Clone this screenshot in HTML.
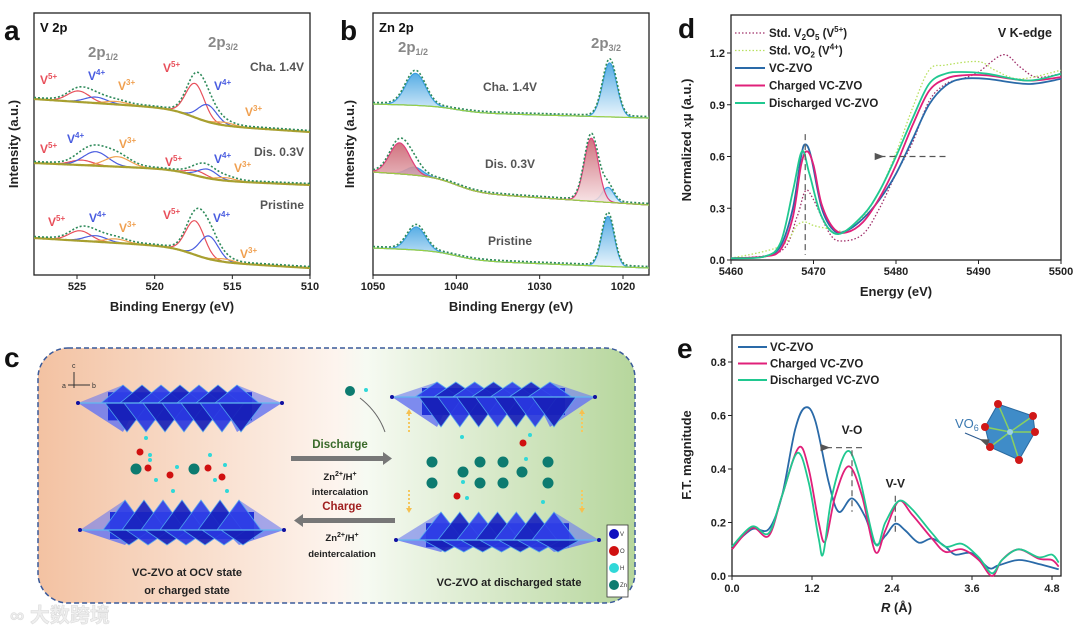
<!DOCTYPE html>
<html><head><meta charset="utf-8"><style>
body{margin:0;background:#fff;}
svg{display:block;font-family:"Liberation Sans","Noto Sans CJK SC",sans-serif;}
.tk{font-size:11px;font-weight:bold;fill:#222;}
.at{font-size:13px;font-weight:bold;fill:#222;}
.pl{font-size:28px;font-weight:bold;fill:#111;}
</style></head><body>
<svg id="fig" width="1080" height="629" viewBox="0 0 1080 629" xmlns="http://www.w3.org/2000/svg">
<defs>
<linearGradient id="bgc" x1="0" x2="1" y1="0" y2="0">
<stop offset="0" stop-color="#f3c2a2"/><stop offset="0.5" stop-color="#fdf4ee"/><stop offset="0.55" stop-color="#f6faf2"/><stop offset="1" stop-color="#b6d69c"/></linearGradient>
<linearGradient id="blueFill" x1="0" x2="0" y1="0" y2="1"><stop offset="0" stop-color="#3a9fe0"/><stop offset="1" stop-color="#e8f4fc"/></linearGradient>
<linearGradient id="redFill" x1="0" x2="0" y1="0" y2="1"><stop offset="0" stop-color="#c85a68"/><stop offset="1" stop-color="#f8e4e6"/></linearGradient>
<marker id="ah" markerWidth="8" markerHeight="8" refX="4" refY="4" orient="auto"><path d="M8,1 L0,4 L8,7 Z" fill="#555"/></marker>
</defs>

<text class="pl" x="4" y="40">a</text>
<text class="pl" x="340" y="40">b</text>
<text class="pl" x="678" y="38">d</text>
<text class="pl" x="4" y="367">c</text>
<text class="pl" x="677" y="358">e</text>

<g id="pa"></g>
<g id="pb"></g>
<g id="pc"></g>
<g id="pd"></g>
<g id="pe"></g>
</svg>
<script>
// ---------- DATA ----------
const aSpectra = ["Cha. 1.4V","Dis. 0.3V","Pristine"];
const aBgLeft = [99,163,238];
const aBgRight = [132,185,268];
const aV5 = [[[517.4,34,0.6],[524.9,11,0.7]],[[517.3,5,0.6],[524.7,5,0.7]],[[517.4,34,0.6],[524.8,10,0.7]]];
const aV4 = [[[516.6,17,0.6],[523.8,6,0.7]],[[516.6,9,0.6],[523.8,14,0.8]],[[516.5,23,0.6],[523.8,6,0.7]]];
const aV3 = [[[515.5,3,0.6],[522.5,3,0.7]],[[515.4,3,0.6],[522.4,10,0.8]],[[515.5,3,0.6],[522.5,4,0.7]]];
const aXTicks = [525,520,515,510];
const bSpectra = ["Cha. 1.4V","Dis. 0.3V","Pristine"];
const bBgLeft = [104,172,248];
const bBgRight = [118,205,268];
const bBlue = [[[1044.9,32,1.2],[1021.6,54,0.85]],[[1045.0,8,1.0],[1021.8,15,0.7]],[[1044.8,23,1.1],[1021.8,50,0.75]]];
const bRed = [[],[[1046.8,31,1.2],[1023.8,63,0.85]],[]];
const bXTicks = [1050,1040,1030,1020];
const dX_V2O5 = [5460,5466,5468,5469,5470,5472,5473.5,5476,5478,5480,5482,5484,5486,5488,5490,5493,5495,5497,5500];
const dY_V2O5 = [0.01,0.05,0.25,0.4,0.35,0.15,0.11,0.15,0.3,0.5,0.68,0.92,1.02,1.05,1.09,1.19,1.12,1.06,1.08];
const dX_VO2 = [5460,5466,5468,5469,5470,5472,5474,5476,5478,5480,5482,5484,5486,5490,5492,5495,5500];
const dY_VO2 = [0.01,0.08,0.2,0.22,0.2,0.18,0.17,0.25,0.4,0.62,0.88,1.1,1.13,1.15,1.1,1.05,1.1];
const dX_VC = [5460,5464,5466,5467.5,5468.5,5469,5469.7,5471,5472.5,5474,5476,5478,5480,5482,5484,5486,5488,5491,5496,5500];
const dY_VC = [0.01,0.02,0.08,0.3,0.6,0.67,0.6,0.3,0.17,0.17,0.24,0.35,0.5,0.7,0.9,1.01,1.05,1.05,1.02,1.05];
const dX_CH = [5460,5464,5466,5467.5,5468.5,5469.2,5470,5471,5472.5,5474,5476,5478,5480,5482,5484,5486,5488,5491,5496,5500];
const dY_CH = [0.01,0.02,0.06,0.25,0.55,0.63,0.55,0.32,0.18,0.16,0.22,0.36,0.55,0.78,0.98,1.05,1.07,1.07,1.04,1.06];
const dX_DC = [5460,5464,5466,5467.5,5468.6,5469.5,5471,5473,5476,5478,5480,5482,5484,5486,5488,5491,5496,5500];
const dY_DC = [0.01,0.02,0.1,0.4,0.63,0.5,0.25,0.15,0.26,0.4,0.6,0.82,1.02,1.08,1.09,1.08,1.04,1.08];
const dXTicks = [5460,5470,5480,5490,5500];
const dYTicks = [0.0,0.3,0.6,0.9,1.2];
const eX_VC = [0,0.3,0.55,0.75,0.95,1.1,1.25,1.45,1.6,1.8,2.0,2.15,2.3,2.45,2.6,2.8,3.0,3.2,3.35,3.6,3.85,4.0,4.3,4.6,4.9];
const eY_VC = [0.11,0.175,0.175,0.3,0.55,0.63,0.58,0.35,0.24,0.29,0.22,0.12,0.15,0.195,0.17,0.125,0.14,0.11,0.08,0.085,0.03,0.04,0.06,0.045,0.025];
const eX_CH = [0,0.3,0.55,0.75,1.0,1.15,1.3,1.4,1.55,1.75,1.95,2.15,2.3,2.5,2.7,3.0,3.2,3.45,3.7,3.9,4.05,4.3,4.6,4.8,4.9];
const eY_CH = [0.1,0.18,0.15,0.3,0.48,0.4,0.2,0.13,0.3,0.41,0.3,0.09,0.17,0.28,0.23,0.14,0.09,0.1,0.06,0.0,0.06,0.1,0.065,0.06,0.035];
const eX_DC = [0,0.3,0.55,0.75,0.98,1.15,1.3,1.37,1.5,1.72,1.9,2.15,2.3,2.5,2.7,3.0,3.2,3.45,3.7,3.9,4.05,4.3,4.6,4.8,4.9];
const eY_DC = [0.11,0.185,0.16,0.3,0.46,0.35,0.14,0.085,0.3,0.465,0.38,0.12,0.2,0.28,0.25,0.16,0.11,0.12,0.07,0.01,0.06,0.1,0.07,0.08,0.05];
const eXTicks = [0.0,1.2,2.4,3.6,4.8];
const eYTicks = [0.0,0.2,0.4,0.6,0.8];

// ---------- HELPERS ----------
const NS="http://www.w3.org/2000/svg";
function mk(parent,tag,attrs){const e=document.createElementNS(NS,tag);for(const k in attrs)e.setAttribute(k,attrs[k]);parent.appendChild(e);return e;}
function txt(parent,x,y,s,attrs){const e=mk(parent,'text',Object.assign({x:x,y:y},attrs||{}));e.innerHTML=s;return e;}
function smooth(pts){if(pts.length<2)return'';let d='M'+pts[0][0].toFixed(1)+','+pts[0][1].toFixed(1);
 for(let i=0;i<pts.length-1;i++){const p0=pts[i-1]||pts[i],p1=pts[i],p2=pts[i+1],p3=pts[i+2]||p2;
 const c1=[p1[0]+(p2[0]-p0[0])/6,p1[1]+(p2[1]-p0[1])/6],c2=[p2[0]-(p3[0]-p1[0])/6,p2[1]-(p3[1]-p1[1])/6];
 d+=' C'+c1[0].toFixed(1)+','+c1[1].toFixed(1)+' '+c2[0].toFixed(1)+','+c2[1].toFixed(1)+' '+p2[0].toFixed(1)+','+p2[1].toFixed(1);}return d;}
function gauss(x,p){return p[1]*Math.exp(-0.5*Math.pow((x-p[0])/p[2],2));}
function frame(g,x0,y0,x1,y1){const r=mk(g,'rect',{x:x0,y:y0,width:x1-x0,height:y1-y0,fill:'none',stroke:'#222','stroke-width':1.3});
 }

// ---------- XPS panels ----------
function xpsPanel(g,opt){
 const sx=v=>opt.px0+(v-opt.v0)*(opt.px1-opt.px0)/(opt.v1-opt.v0);
 frame(g,opt.L,opt.T,opt.R,opt.B);
 opt.ticks.forEach(t=>{const x=sx(t);mk(g,'line',{x1:x,x2:x,y1:opt.B,y2:opt.B+4,stroke:'#222'});
  const l=txt(g,x,opt.B+15,t,{class:'tk','text-anchor':'middle'});});
 const xt=txt(g,(opt.L+opt.R)/2,opt.B+36,'Binding Energy (eV)',{class:'at','text-anchor':'middle'});
 
 const yt=txt(g,0,0,'Intensity (a.u.)',{class:'at','text-anchor':'middle',transform:'translate('+opt.yx+','+((opt.T+opt.B)/2)+') rotate(-90)'});
 
 const N=160;
 opt.bgL.forEach((bl,i)=>{
  const br=opt.bgR[i];
  const bg=x=>{const f=(x-opt.L)/(opt.R-opt.L);const step=1/(1+Math.exp(-(x-sx(opt.stepAt))/12));return bl+(br-bl)*(0.55*f+0.45*step);};
  const comps=opt.comps.map(c=>c[i]);
  const sg=mk(g,'g',{});
  const xs=[];for(let k=0;k<=N;k++)xs.push(opt.L+k*(opt.R-opt.L)/N);
  const inv=x=>opt.v0+(x-opt.px0)*(opt.v1-opt.v0)/(opt.px1-opt.px0);
  comps.forEach((list,ci)=>{list.forEach(p=>{
   const pts=xs.map(x=>[x,bg(x)-gauss(inv(x),p)]);
   if(opt.fills){const base=xs.map(x=>[x,bg(x)]).reverse();
    const f=mk(sg,'path',{d:smooth(pts)+' L'+base.map(q=>q[0].toFixed(1)+','+q[1].toFixed(1)).join(' L')+' Z',fill:opt.fills[ci],opacity:0.85});
    }
   const l=mk(sg,'path',{d:smooth(pts),fill:'none',stroke:opt.colors[ci],'stroke-width':1.2});
   });});
  const bp=mk(sg,'path',{d:smooth(xs.map(x=>[x,bg(x)])),fill:'none',stroke:opt.bgColor,'stroke-width':opt.bgW});
  
  const env=xs.map(x=>{let s=0;comps.forEach(l=>l.forEach(p=>s+=gauss(inv(x),p)));return [x,bg(x)-s*1.05-1.5];});
  const ep=mk(sg,'path',{d:smooth(env),fill:'none',stroke:'#2e8a5a','stroke-width':1.6,'stroke-dasharray':'2 2'});
  
  const lb=txt(sg,opt.labX,opt.labY[i],opt.names[i],{'font-size':12,'font-weight':'bold',fill:'#555','text-anchor':opt.labAnchor});
  
 });
}
const pa=document.getElementById('pa');
xpsPanel(pa,{L:34,R:310,T:13,B:275,v0:525,v1:510,px0:77,px1:310,ticks:aXTicks,yx:18,bgL:aBgLeft,bgR:aBgRight,stepAt:517.5,
 comps:[aV5,aV4,aV3],colors:['#e8505b','#4a5de0','#f0a050'],bgColor:'#a8a030',bgW:2.2,names:aSpectra,labX:304,labY:[71,156,209],labAnchor:'end'});
txt(pa,40,32,'V 2p',{'font-size':13,'font-weight':'bold',fill:'#111'});
txt(pa,88,57,'2p<tspan font-size="9" dy="3">1/2</tspan>',{'font-size':15,'font-weight':'bold',fill:'#888'});
txt(pa,208,47,'2p<tspan font-size="9" dy="3">3/2</tspan>',{'font-size':15,'font-weight':'bold',fill:'#888'});
const aLab=[[40,84,'V','5+','#e8505b'],[88,80,'V','4+','#4a5de0'],[118,90,'V','3+','#f0a050'],[163,72,'V','5+','#e8505b'],[214,90,'V','4+','#4a5de0'],[245,116,'V','3+','#f0a050'],
[40,153,'V','5+','#e8505b'],[67,143,'V','4+','#4a5de0'],[119,148,'V','3+','#f0a050'],[165,166,'V','5+','#e8505b'],[214,163,'V','4+','#4a5de0'],[234,172,'V','3+','#f0a050'],
[48,226,'V','5+','#e8505b'],[89,222,'V','4+','#4a5de0'],[119,232,'V','3+','#f0a050'],[163,219,'V','5+','#e8505b'],[213,222,'V','4+','#4a5de0'],[240,258,'V','3+','#f0a050']];
aLab.forEach(a=>{const t=txt(pa,a[0],a[1],a[2]+'<tspan font-size="8" dy="-5">'+a[3]+'</tspan>',{'font-size':12,'font-weight':'bold',fill:a[4]});
 });

const pb=document.getElementById('pb');
xpsPanel(pb,{L:373,R:649,T:13,B:275,v0:1050,v1:1020,px0:373,px1:623,ticks:bXTicks,yx:354,bgL:bBgLeft,bgR:bBgRight,stepAt:1040,
 comps:[bBlue,bRed],colors:['#3a9fe0','#e0407a'],fills:['url(#blueFill)','url(#redFill)'],bgColor:'#9ad040',bgW:1.2,names:bSpectra,labX:510,labY:[91,168,245],labAnchor:'middle'});
txt(pb,379,32,'Zn 2p',{'font-size':13,'font-weight':'bold',fill:'#111'});
txt(pb,398,52,'2p<tspan font-size="9" dy="3">1/2</tspan>',{'font-size':15,'font-weight':'bold',fill:'#888'});
txt(pb,591,48,'2p<tspan font-size="9" dy="3">3/2</tspan>',{'font-size':15,'font-weight':'bold',fill:'#888'});

// ---------- Panel d ----------
const pd=document.getElementById('pd');
(function(){
 const L=731,R=1061,T=15,B=260;
 const sx=v=>L+(v-5460)*(R-L)/40, sy=v=>B-v*(B-53)/1.2;
 frame(pd,L,T,R,B);
 dXTicks.forEach(t=>{mk(pd,'line',{x1:sx(t),x2:sx(t),y1:B,y2:B+4,stroke:'#222'});const l=txt(pd,sx(t),B+15,t,{class:'tk','text-anchor':'middle'});});
 dYTicks.forEach(t=>{mk(pd,'line',{x1:L-4,x2:L,y1:sy(t),y2:sy(t),stroke:'#222'});const l=txt(pd,L-6,sy(t)+4,t.toFixed(1),{class:'tk','text-anchor':'end'});});
 const xt=txt(pd,(L+R)/2,296,'Energy (eV)',{class:'at','text-anchor':'middle'});
 const yt=txt(pd,0,0,'Normalized <tspan font-style="italic" font-family="Liberation Serif">x</tspan>μ (a.u.)',{class:'at','text-anchor':'middle',transform:'translate(691,140) rotate(-90)'});
 const series=[[dX_V2O5,dY_V2O5,'#a0306a','1.5 2','std-v2o5-line'],[dX_VO2,dY_VO2,'#b8e060','1.5 2','std-vo2-line'],[dX_VC,dY_VC,'#2a6aa8','','vc-zvo-line'],[dX_CH,dY_CH,'#e0207a','','charged-vc-zvo-line'],[dX_DC,dY_DC,'#20c890','','discharged-vc-zvo-line']];
 series.forEach(s=>{const p=mk(pd,'path',{d:smooth(s[0].map((x,i)=>[sx(x),sy(s[1][i])])),fill:'none',stroke:s[2],'stroke-width':s[3]?1.3:1.8,'stroke-dasharray':s[3]});
  });
 mk(pd,'line',{x1:sx(5469),x2:sx(5469),y1:sy(0.73),y2:sy(0.03),stroke:'#666','stroke-width':1.3,'stroke-dasharray':'6 4'});
 mk(pd,'line',{x1:sx(5486),x2:sx(5478),y1:sy(0.6),y2:sy(0.6),stroke:'#555','stroke-width':1.2,'stroke-dasharray':'6 4','marker-end':'url(#ah)'});
 const leg=[['#a0306a','1.5 2','Std. V<tspan font-size="8" dy="3">2</tspan><tspan dy="-3">O</tspan><tspan font-size="8" dy="3">5</tspan><tspan dy="-3"> (V</tspan><tspan font-size="8" dy="-5">5+</tspan><tspan dy="5">)</tspan>'],
 ['#b8e060','1.5 2','Std. VO<tspan font-size="8" dy="3">2</tspan><tspan dy="-3"> (V</tspan><tspan font-size="8" dy="-5">4+</tspan><tspan dy="5">)</tspan>'],
 ['#2a6aa8','','VC-ZVO'],['#e0207a','','Charged VC-ZVO'],['#20c890','','Discharged VC-ZVO']];
 leg.forEach((e,i)=>{const y=33+i*17.5;const g=mk(pd,'g',{});
  mk(g,'line',{x1:735,x2:765,y1:y,y2:y,stroke:e[0],'stroke-width':e[1]?1.3:2,'stroke-dasharray':e[1]});
  txt(g,769,y+4,e[2],{'font-size':11.5,'font-weight':'bold',fill:'#222'});});
 txt(pd,1052,37,'V K-edge',{'font-size':12.5,'font-weight':'bold',fill:'#222','text-anchor':'end'});
})();

// ---------- Panel e ----------
const pe=document.getElementById('pe');
(function(){
 const L=732,R=1061,T=335,B=576;
 const sx=v=>L+v*(1052-L)/4.8, sy=v=>B-v*(B-362)/0.8;
 frame(pe,L,T,R,B);
 eXTicks.forEach(t=>{mk(pe,'line',{x1:sx(t),x2:sx(t),y1:B,y2:B+4,stroke:'#222'});const l=txt(pe,sx(t),B+16,t.toFixed(1),{class:'tk','text-anchor':'middle'});});
 eYTicks.forEach(t=>{mk(pe,'line',{x1:L-4,x2:L,y1:sy(t),y2:sy(t),stroke:'#222'});const l=txt(pe,L-6,sy(t)+4,t.toFixed(1),{class:'tk','text-anchor':'end'});});
 const xt=txt(pe,(L+R)/2,612,'<tspan font-style="italic">R</tspan> (Å)',{class:'at','text-anchor':'middle'});
 const yt=txt(pe,0,0,'F.T. magnitude',{class:'at','text-anchor':'middle',transform:'translate(691,455) rotate(-90)'});
 const series=[[eX_VC,eY_VC,'#2a6aa8','vc-zvo-line'],[eX_CH,eY_CH,'#e0207a','charged-vc-zvo-line'],[eX_DC,eY_DC,'#20c890','discharged-vc-zvo-line']];
 series.forEach(s=>{const p=mk(pe,'path',{d:smooth(s[0].map((x,i)=>[sx(x),sy(s[1][i])])),fill:'none',stroke:s[2],'stroke-width':1.8});
  });
 mk(pe,'line',{x1:sx(1.8),x2:sx(1.8),y1:sy(0.47),y2:sy(0.24),stroke:'#666','stroke-width':1.3,'stroke-dasharray':'6 4'});
 mk(pe,'line',{x1:sx(1.95),x2:sx(1.4),y1:sy(0.48),y2:sy(0.48),stroke:'#666','stroke-width':1.2,'stroke-dasharray':'6 4','marker-end':'url(#ah)'});
 mk(pe,'line',{x1:sx(2.45),x2:sx(2.45),y1:sy(0.3),y2:sy(0.16),stroke:'#666','stroke-width':1.3,'stroke-dasharray':'6 4'});
 txt(pe,sx(1.8),sy(0.53),'V-O',{'font-size':12,'font-weight':'bold',fill:'#222','text-anchor':'middle'});
 txt(pe,sx(2.45),sy(0.33),'V-V',{'font-size':12,'font-weight':'bold',fill:'#222','text-anchor':'middle'});
 const leg=[['#2a6aa8','VC-ZVO'],['#e0207a','Charged VC-ZVO'],['#20c890','Discharged VC-ZVO']];
 leg.forEach((e,i)=>{const y=347+i*16.5;const g=mk(pe,'g',{});
  mk(g,'line',{x1:738,x2:767,y1:y,y2:y,stroke:e[0],'stroke-width':2});
  txt(g,770,y+4,e[1],{'font-size':11.5,'font-weight':'bold',fill:'#222'});});
 const ins=mk(pe,'g',{});
 mk(ins,'polygon',{points:'998,404 1033,416 1035,432 1019,460 990,447 985,427',fill:'#3f8cc8',stroke:'#2a6aa0'});
 [[998,404],[1033,416],[1035,432],[1019,460],[990,447],[985,427]].forEach(p=>{mk(ins,'line',{x1:1010,y1:432,x2:p[0],y2:p[1],stroke:'#8ad060','stroke-width':1.5});mk(ins,'circle',{cx:p[0],cy:p[1],r:4,fill:'#d01818'});});
 mk(ins,'circle',{cx:1010,cy:432,r:3,fill:'#9ad0e8'});
 txt(ins,955,428,'VO<tspan font-size="9" dy="3">6</tspan>',{'font-size':13,fill:'#3a78b0'});
 mk(ins,'line',{x1:965,y1:433,x2:984,y2:441,stroke:'#2a5a90','stroke-width':1.2,'marker-end':'url(#ah)'});
})();

// ---------- Panel c ----------
const pc=document.getElementById('pc');
(function(){
 const bx=mk(pc,'rect',{x:38,y:348,width:597,height:255,rx:30,fill:'url(#bgc)',stroke:'#3a5a9a','stroke-width':1.5,'stroke-dasharray':'5 3'});
 
 function layer(x0,x1,yc,top,bot,name){const g=mk(pc,'g',{});
  const w=x1-x0;
  // side light triangles
  mk(g,'polygon',{points:x0+','+yc+' '+(x0+45)+','+bot+' '+(x0+60)+','+yc,fill:'#6a78f0',opacity:0.85});
  mk(g,'polygon',{points:x1+','+yc+' '+(x1-45)+','+bot+' '+(x1-60)+','+yc,fill:'#6a78f0',opacity:0.85});
  mk(g,'polygon',{points:x0+','+yc+' '+(x0+45)+','+top+' '+(x0+60)+','+yc,fill:'#6a78f0',opacity:0.6});
  mk(g,'polygon',{points:x1+','+yc+' '+(x1-45)+','+top+' '+(x1-60)+','+yc,fill:'#6a78f0',opacity:0.6});
  mk(g,'rect',{x:x0+30,y:yc-(yc-top)*0.6,width:w-60,height:(bot-top)*0.6,fill:'#2030d8'});
  for(let i=0;i<7;i++){const cx=x0+45+i*(w-90)/6;
   mk(g,'polygon',{points:(cx-22)+','+yc+' '+(cx+22)+','+yc+' '+cx+','+top,fill:i%2?'#1a24c0':'#3040e8',stroke:'#50a8f0','stroke-width':0.8,opacity:0.92});
   mk(g,'polygon',{points:(cx-18)+','+yc+' '+(cx+26)+','+yc+' '+(cx+4)+','+bot,fill:i%2?'#2a38e0':'#1820b8',stroke:'#50a8f0','stroke-width':0.8,opacity:0.92});}
  mk(g,'line',{x1:x0,x2:x1,y1:yc,y2:yc,stroke:'#60b8f0','stroke-width':1.2});
  mk(g,'circle',{cx:x0,cy:yc,r:2,fill:'#1010a0'});mk(g,'circle',{cx:x1,cy:yc,r:2,fill:'#1010a0'});}
 layer(78,282,403,385,432,'vo-layer-top-left');
 layer(80,284,530,500,545,'vo-layer-bottom-left');
 layer(392,595,397,382,427,'vo-layer-top-right');
 layer(396,599,540,512,552,'vo-layer-bottom-right');
 const big=[[136,469],[194,469],[432,462],[480,462],[503,462],[548,462],[463,472],[522,472],[432,483],[480,483],[503,483],[548,483]];
 big.forEach(p=>{const c=mk(pc,'circle',{cx:p[0],cy:p[1],r:5.5,fill:'#0d7b70'});});
 mk(pc,'circle',{cx:350,cy:391,r:5,fill:'#0d7b70'});mk(pc,'circle',{cx:366,cy:390,r:2,fill:'#30d8d8'});
 [[140,452],[148,468],[170,475],[208,468],[222,477],[523,443],[457,496]].forEach(p=>mk(pc,'circle',{cx:p[0],cy:p[1],r:3.5,fill:'#d01010'}));
 [[146,438],[150,455],[150,460],[177,467],[210,455],[225,465],[156,480],[215,480],[173,491],[227,491],[462,437],[530,435],[526,459],[463,482],[467,498],[543,502]].forEach(p=>mk(pc,'circle',{cx:p[0],cy:p[1],r:2,fill:'#30d8d8'}));
 mk(pc,'path',{d:'M360,398 Q378,412 385,432',fill:'none',stroke:'#666','stroke-width':1});
 const a1=mk(pc,'rect',{x:291,y:456,width:92,height:5,fill:'#777'});
 mk(pc,'polygon',{points:'383,452 392,458.5 383,465',fill:'#777'});
 const a2=mk(pc,'rect',{x:303,y:518,width:92,height:5,fill:'#777'});
 mk(pc,'polygon',{points:'303,514 294,520.5 303,527',fill:'#777'});
 txt(pc,340,448,'Discharge',{'font-size':11.5,'font-weight':'bold',fill:'#3a6a2a','text-anchor':'middle'});
 txt(pc,340,480,'Zn<tspan font-size="7" dy="-4">2+</tspan><tspan dy="4">/H</tspan><tspan font-size="7" dy="-4">+</tspan>',{'font-size':9.5,'font-weight':'bold',fill:'#222','text-anchor':'middle'});
 txt(pc,340,495,'intercalation',{'font-size':9.5,'font-weight':'bold',fill:'#222','text-anchor':'middle'});
 txt(pc,342,510,'Charge',{'font-size':11.5,'font-weight':'bold',fill:'#a02020','text-anchor':'middle'});
 txt(pc,342,541,'Zn<tspan font-size="7" dy="-4">2+</tspan><tspan dy="4">/H</tspan><tspan font-size="7" dy="-4">+</tspan>',{'font-size':9.5,'font-weight':'bold',fill:'#222','text-anchor':'middle'});
 txt(pc,342,557,'deintercalation',{'font-size':9.5,'font-weight':'bold',fill:'#222','text-anchor':'middle'});
 txt(pc,187,576,'VC-ZVO at OCV state',{'font-size':11,'font-weight':'bold',fill:'#222','text-anchor':'middle'});
 txt(pc,187,594,'or charged state',{'font-size':11,'font-weight':'bold',fill:'#222','text-anchor':'middle'});
 txt(pc,509,586,'VC-ZVO at discharged state',{'font-size':11,'font-weight':'bold',fill:'#222','text-anchor':'middle'});
 [[409,432,409,414],[582,432,582,414],[409,490,409,508],[582,490,582,508]].forEach(a=>{mk(pc,'line',{x1:a[0],y1:a[1],x2:a[2],y2:a[3],stroke:'#f5c860','stroke-width':2,'stroke-dasharray':'2 2'});
  const d=a[3]>a[1]?1:-1;mk(pc,'polygon',{points:(a[2]-3)+','+a[3]+' '+(a[2]+3)+','+a[3]+' '+a[2]+','+(a[3]+5*d),fill:'#f5c050'});});
 mk(pc,'line',{x1:74,y1:388,x2:74,y2:372,stroke:'#333'});mk(pc,'line',{x1:68,y1:385,x2:90,y2:385,stroke:'#333'});
 txt(pc,72,368,'c',{'font-size':7,fill:'#333'});txt(pc,92,388,'b',{'font-size':7,fill:'#333'});txt(pc,62,388,'a',{'font-size':7,fill:'#333'});
 const lg=mk(pc,'g',{});
 mk(lg,'rect',{x:607,y:525,width:21,height:72,fill:'#fff',stroke:'#333','stroke-width':0.8});
 [['#1010c0','V'],['#d01010','O'],['#30d8d8','H'],['#0d7b70','Zn']].forEach((e,i)=>{mk(lg,'circle',{cx:614,cy:534+i*17,r:5,fill:e[0]});txt(lg,620,536+i*17,e[1],{'font-size':6,fill:'#333'});});
 const wm=txt(pc,10,622,'∞ 大数跨境',{'font-size':20,'font-weight':'bold',fill:'#eeeeee',stroke:'#d8d8d8','stroke-width':0.5});
 
})();
</script>
</body></html>
